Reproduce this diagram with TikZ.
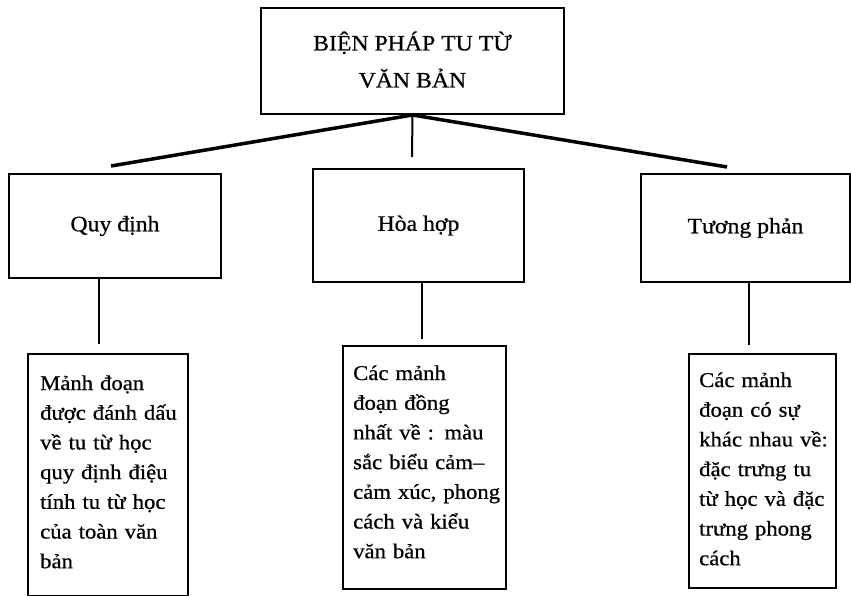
\documentclass[tikz,border=0pt]{standalone}
\usepackage{fontspec}
\setmainfont[FakeStretch=1.08,FakeBold=0.6]{Liberation Serif}
\begin{document}
\begin{tikzpicture}[x=1pt,y=-1pt,
  box/.style={draw, line width=2pt, inner sep=0pt, anchor=north west},
  conn/.style={line width=3.5pt},
  stem/.style={line width=2pt},
  head/.style={font=\fontsize{22}{37}\selectfont, align=center},
  mid/.style={font=\fontsize{22}{25}\selectfont},
  txt/.style={inner sep=0pt, anchor=base west, align=left, text width=200pt, font=\fontsize{21}{29.7}\selectfont},
]
\useasboundingbox (0,0) rectangle (851,596);
% top box
\node[box, minimum width=303pt, minimum height=106pt, head] (top) at (260,7) {\raisebox{3pt}{BIỆN PHÁP TU TỪ}\\\raisebox{3pt}{VĂN BẢN}};
% middle boxes
\node[box, minimum width=212pt, minimum height=104pt, mid] (m1) at (8,173) {\raisebox{-5pt}{Quy định}};
\node[box, minimum width=211pt, minimum height=113pt, mid] (m2) at (312,168) {\raisebox{-6pt}{Hòa hợp}};
\node[box, minimum width=209pt, minimum height=108pt, mid] (m3) at (640,173) {\raisebox{-3pt}{Tương phản}};
% connector ends
\coordinate (e1) at (111,166);
\coordinate (e2) at (412,157);
\coordinate (e3) at (727,167);
\draw[conn] (top.south) -- (e1);
\draw[stem] (top.south) -- (e2);
\draw[conn] (top.south) -- (e3);
% bottom boxes
\node[box, minimum width=160pt, minimum height=242pt] (b1) at (27,353) {};
\node[box, minimum width=163pt, minimum height=243pt] (b2) at (342,345) {};
\node[box, minimum width=147pt, minimum height=234pt] (b3) at (688,353) {};
% stems
\coordinate (s1) at (99,344);
\coordinate (s2) at (422,339);
\coordinate (s3) at (749,345);
\draw[stem] (m1.south -| s1) -- (s1);
\draw[stem] (m2.south -| s2) -- (s2);
\draw[stem] (m3.south -| s3) -- (s3);
% texts
\node[txt] (t1) at (40,390) {Mảnh đoạn\\được đánh dấu\\về tu từ học\\quy định điệu\\tính tu từ học\\của toàn văn\\bản};
\node[txt] (t2) at (353,380) {Các mảnh\\đoạn đồng\\nhất về : màu\\sắc biểu cảm–\\cảm xúc, phong\\cách và kiểu\\văn bản};
\node[txt] (t3) at (699,387) {Các mảnh\\đoạn có sự\\khác nhau về:\\đặc trưng tu\\từ học và đặc\\trưng phong\\cách};
\end{tikzpicture}
\end{document}
